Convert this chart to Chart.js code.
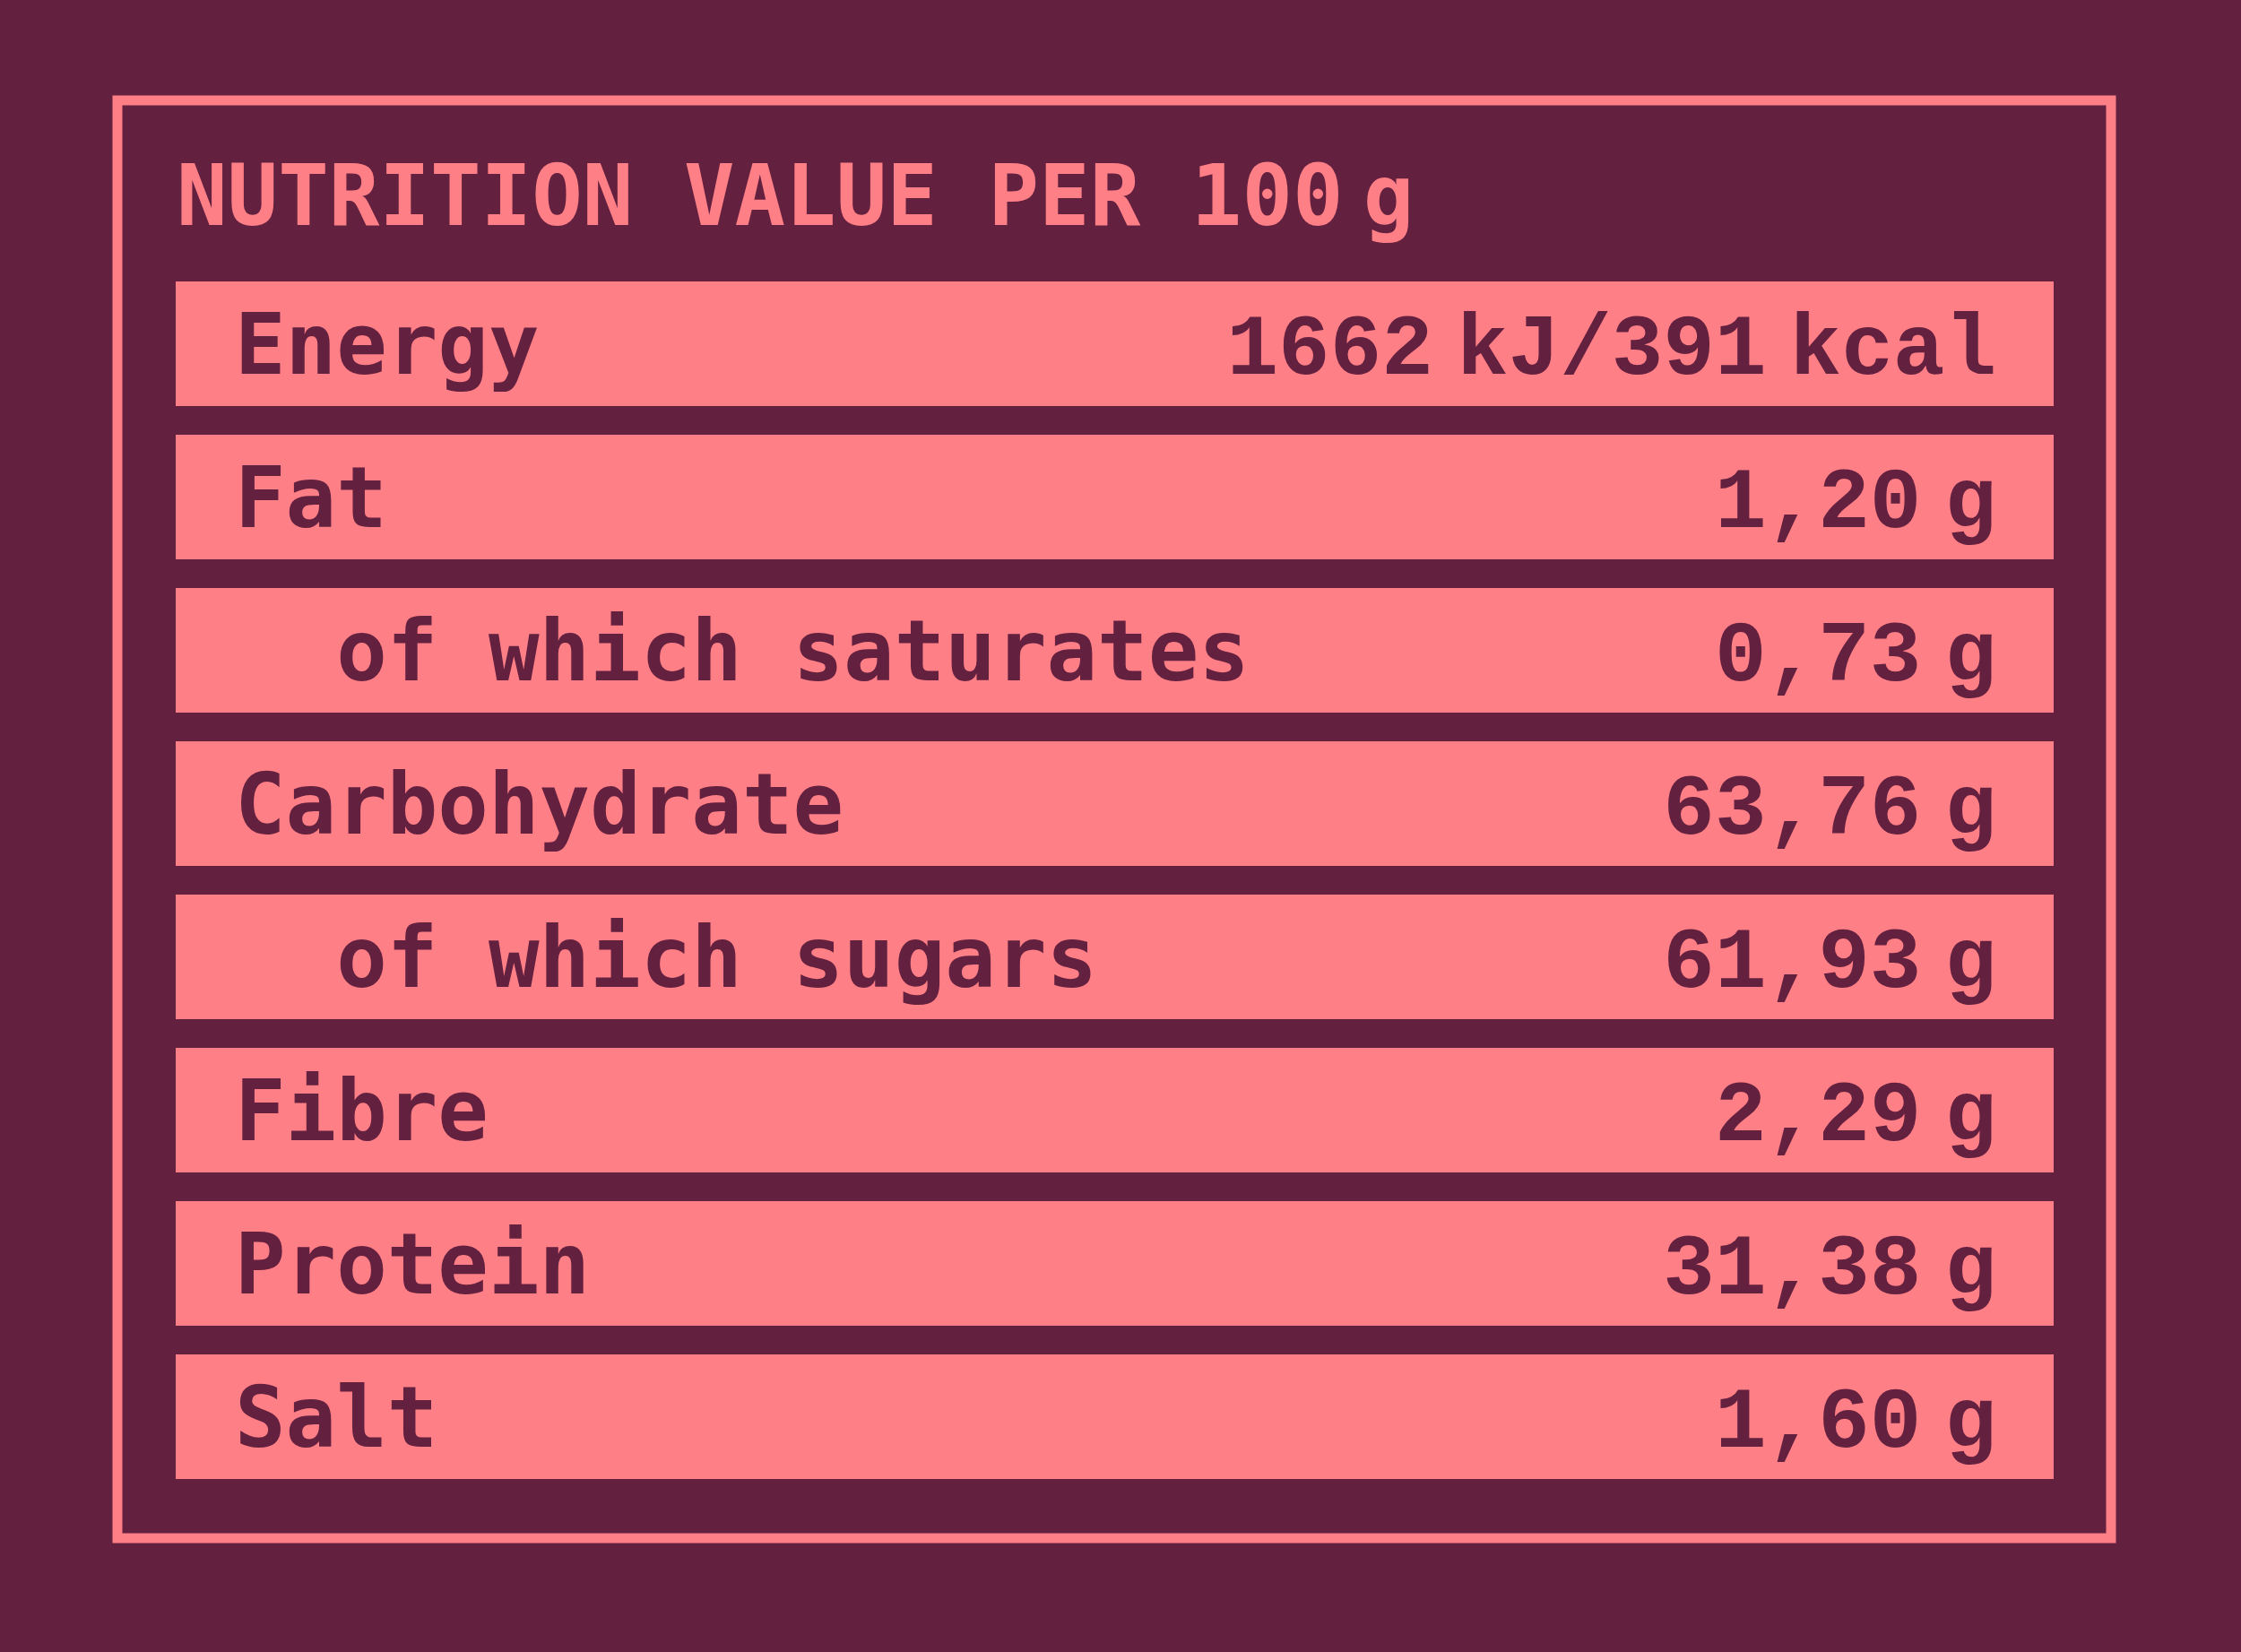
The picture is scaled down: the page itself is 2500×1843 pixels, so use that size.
<!DOCTYPE html>
<html>
<head>
<meta charset="utf-8">
<script src="https://cdn.jsdelivr.net/npm/chart.js@4/dist/chart.umd.min.js"></script>
<style>
  html, body { margin: 0; padding: 0; background: #63203f; }
  #wrap { width: 2500px; height: 1843px; position: relative; }
</style>
</head>
<body>
<div id="wrap"><canvas id="nutrition"></canvas></div>
<script>
'use strict';

// '\u2009' marks the narrow gap between a number and its unit
const title = 'NUTRITION VALUE PER 100\u2009g';
const nutrients = ['Energy', 'Fat', '  of which saturates', 'Carbohydrate', '  of which sugars', 'Fibre', 'Protein', 'Salt'];
const amounts = ['1662\u2009kJ/391\u2009kcal', '1,20\u2009g', '0,73\u2009g', '63,76\u2009g', '61,93\u2009g', '2,29\u2009g', '31,38\u2009g', '1,60\u2009g'];
// every row is a full width band
const rowFill = [1, 1, 1, 1, 1, 1, 1, 1];

const bg = '#63203f',
    pink = '#ff7f86';

//Пишу текст кусками, между кусками узкий промежуток
function drawPieces(c, text, x, y, align, gap) {
    let parts = text.split('\u2009'),
        widths = parts.map(p => c.measureText(p).width),
        total = widths.reduce((a, b) => a + b, 0) + gap * (parts.length - 1),
        px = align === 'right' ? x - total : x;
    c.textAlign = 'left';
    for (let i = 0; i < parts.length; i++) {
        c.fillText(parts[i], px, y);
        px += widths[i] + gap;
    }
}

// frame, title and row texts
const tablePlugin = {
    id: 'tablePlugin',
    beforeDraw(chart) {
        const c = chart.ctx;
        c.save();
        c.fillStyle = bg;
        c.fillRect(0, 0, chart.width, chart.height);
        c.strokeStyle = pink;
        c.lineWidth = 11;
        c.strokeRect(131, 112, 2224, 1604);
        c.fillStyle = pink;
        c.font = 'bold 94px "DejaVu Sans Mono"';
        c.textBaseline = 'alphabetic';
        drawPieces(c, title, 197, 251, 'left', 22);
        c.restore();
    },
    afterDatasetsDraw(chart) {
        const c = chart.ctx,
            y = chart.scales.y,
            x = chart.scales.x;
        c.save();
        c.fillStyle = bg;
        c.textBaseline = 'alphabetic';
        for (let i = 0; i < nutrients.length; i++) {
            let cy = y.getPixelForValue(i);
            c.font = 'bold 94px "DejaVu Sans Mono"';
            c.textAlign = 'left';
            c.fillText(nutrients[i], x.left + 66, cy + 33);
            c.font = 'bold 96px "Liberation Mono"';
            drawPieces(c, amounts[i], x.right - 64, cy + 33, 'right', 26);
        }
        c.restore();
    }
};

new Chart(document.getElementById('nutrition'), {
    type: 'bar',
    data: {
        labels: nutrients,
        datasets: [{
            data: rowFill,
            backgroundColor: pink,
            borderWidth: 0,
            barPercentage: 1,
            categoryPercentage: 0.813
        }]
    },
    options: {
        indexAxis: 'y',
        responsive: true,
        maintainAspectRatio: false,
        animation: false,
        layout: {
            padding: { left: 196, right: 209, top: 298, bottom: 177 }
        },
        scales: {
            x: { display: false, min: 0, max: 1 },
            y: { display: false }
        },
        plugins: {
            legend: { display: false },
            tooltip: { enabled: false }
        }
    },
    plugins: [tablePlugin]
});
</script>
</body>
</html>
